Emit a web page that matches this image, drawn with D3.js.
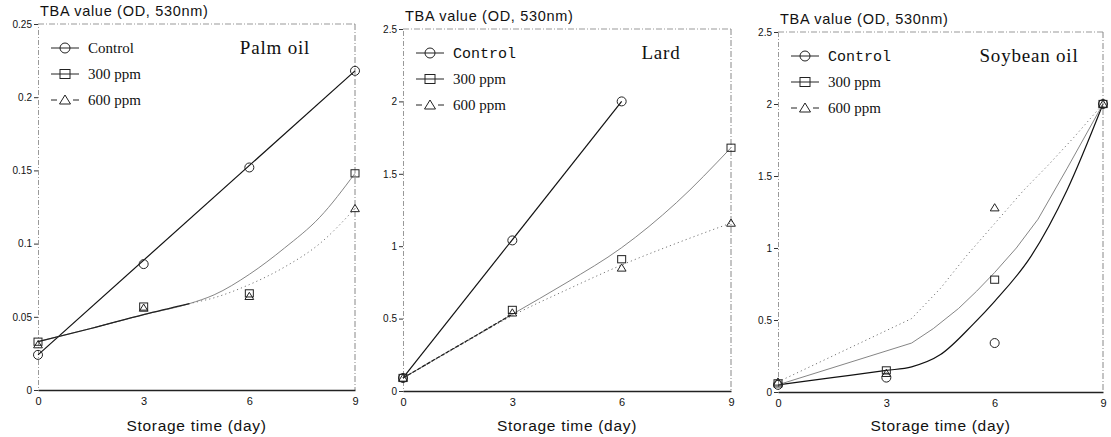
<!DOCTYPE html>
<html><head><meta charset="utf-8">
<script src="https://cdn.jsdelivr.net/npm/d3@7"></script>
<style>body{margin:0;background:#fff}svg{display:block}</style>
</head><body>
<script>
// ---------- DATA ----------
const days = [0, 3, 6, 9];
const seriesNames = ["Control", "300 ppm", "600 ppm"];
const panelTitles = ["Palm oil", "Lard", "Soybean oil"];
const yLabel = "TBA value (OD, 530nm)";
const xLabel = "Storage time (day)";
const xTicks = [0, 3, 6, 9];
const palmYTicks = [0, 0.05, 0.1, 0.15, 0.2, 0.25];
const palmYTickLabels = ["0", "0.05", "0.1", "0.15", "0.2", "0.25"];
const oilYTicks = [0, 0.5, 1, 1.5, 2, 2.5];
const oilYTickLabels = ["0", "0.5", "1", "1.5", "2", "2.5"];

// measured points
const palmControl = [0.024, 0.086, 0.152, 0.218];
const palm300 = [0.033, 0.057, 0.066, 0.148];
const palm600 = [0.031, 0.056, 0.064, 0.124];
const lardControl = [0.09, 1.04, 2.0, null];
const lard300 = [0.09, 0.56, 0.91, 1.68];
const lard600 = [0.09, 0.54, 0.85, 1.16];
const soyControl = [0.05, 0.10, 0.34, 2.0];
const soy300 = [0.06, 0.15, 0.78, 2.0];
const soy600 = [0.07, 0.13, 1.28, 2.0];

// fitted curves
const palmControlFitX = [0, 9];
const palmControlFitY = [0.024, 0.218];
const palm300FitX = [0, 1.5, 3, 4.3, 5, 6, 7, 8, 9];
const palm300FitY = [0.033, 0.042, 0.0515, 0.059, 0.065, 0.079, 0.097, 0.118, 0.148];
const palm600FitX = [0, 1.5, 3, 4.3, 5, 6, 7, 8, 9];
const palm600FitY = [0.033, 0.042, 0.0515, 0.059, 0.063, 0.072, 0.084, 0.100, 0.124];

const lardControlFitX = [0, 6];
const lardControlFitY = [0.09, 2.0];
const lard300FitX = [0, 1.5, 3, 4.5, 6, 7.5, 9];
const lard300FitY = [0.09, 0.31, 0.53, 0.75, 0.99, 1.30, 1.68];
const lard600FitX = [0, 1.5, 3, 4.5, 6, 7.5, 9];
const lard600FitY = [0.09, 0.305, 0.52, 0.70, 0.87, 1.02, 1.16];

const soyControlFitX = [0, 1.5, 3, 3.7, 4.5, 5.4, 6, 7, 8, 9];
const soyControlFitY = [0.05, 0.10, 0.15, 0.175, 0.26, 0.47, 0.63, 0.94, 1.40, 2.0];
const soy300FitX = [0, 3.7, 4.3, 5, 5.5, 6, 6.6, 7.2, 8, 9];
const soy300FitY = [0.05, 0.34, 0.44, 0.58, 0.70, 0.83, 1.0, 1.2, 1.55, 2.0];
const soy600FitX = [0, 3.7, 4.5, 5.2, 6, 6.8, 7.5, 8.2, 9];
const soy600FitY = [0.07, 0.51, 0.72, 0.94, 1.17, 1.40, 1.58, 1.77, 2.0];

// ---------- LAYOUT ----------
const W = 1111, H = 437;
const svg = d3.select("body").append("svg").attr("width", W).attr("height", H);

const panels = [
  { title: panelTitles[0], x0: 38, x1: 355, yTop: 24, yBot: 390, yMax: 0.25,
    ticks: palmYTicks, tickLabels: palmYTickLabels, titleX: 275,
    pts: [palmControl, palm300, palm600],
    fits: [[palmControlFitX, palmControlFitY], [palm300FitX, palm300FitY], [palm600FitX, palm600FitY]],
    shared: 4.3, smooth: [true, true, true] },
  { title: panelTitles[1], x0: 403, x1: 731, yTop: 29, yBot: 391, yMax: 2.5,
    ticks: oilYTicks, tickLabels: oilYTickLabels, titleX: 661,
    pts: [lardControl, lard300, lard600],
    fits: [[lardControlFitX, lardControlFitY], [lard300FitX, lard300FitY], [lard600FitX, lard600FitY]],
    shared: 3, smooth: [true, true, true] },
  { title: panelTitles[2], x0: 778, x1: 1103, yTop: 32, yBot: 392, yMax: 2.5,
    ticks: oilYTicks, tickLabels: oilYTickLabels, titleX: 1029,
    pts: [soyControl, soy300, soy600],
    fits: [[soyControlFitX, soyControlFitY], [soy300FitX, soy300FitY], [soy600FitX, soy600FitY]],
    shared: 0, smooth: [true, false, false] }
];

const lineStyles = [
  { stroke: "#111", width: 1.2, dash: null },
  { stroke: "#777", width: 0.9, dash: null },
  { stroke: "#777", width: 1, dash: "1.2,3" }
];

function marker(g, type, cx, cy, s) {
  if (type === 0) {
    g.append("circle").attr("cx", cx).attr("cy", cy).attr("r", s)
      .attr("fill", "none").attr("stroke", "#222").attr("stroke-width", 1);
  } else if (type === 1) {
    g.append("rect").attr("x", cx - s).attr("y", cy - s * 0.9).attr("width", 2 * s).attr("height", 1.8 * s)
      .attr("fill", "none").attr("stroke", "#222").attr("stroke-width", 1);
  } else {
    g.append("path").attr("d", `M${cx},${cy - s}L${cx + s * 1.1},${cy + s * 0.8}L${cx - s * 1.1},${cy + s * 0.8}Z`)
      .attr("fill", "none").attr("stroke", "#222").attr("stroke-width", 1);
  }
}

panels.forEach((p, pi) => {
  const x = d3.scaleLinear().domain([0, 9]).range([p.x0, p.x1]);
  const y = d3.scaleLinear().domain([0, p.yMax]).range([p.yBot, p.yTop]);
  const g = svg.append("g");

  // frame (dashed gray top/right, solid bottom)
  g.append("line").attr("x1", p.x0).attr("x2", p.x1).attr("y1", p.yTop).attr("y2", p.yTop)
    .attr("stroke", "#999").attr("stroke-width", 1).attr("stroke-dasharray", "6,2,1,2");
  g.append("line").attr("x1", p.x1).attr("x2", p.x1).attr("y1", p.yTop).attr("y2", p.yBot)
    .attr("stroke", "#888").attr("stroke-width", 1).attr("stroke-dasharray", "6,2,1,2");

  // y axis
  const yAxis = d3.axisLeft(y).tickValues(p.ticks).tickSize(4)
    .tickFormat((d, i) => p.tickLabels[i]);
  const ya = g.append("g").attr("transform", `translate(${p.x0},0)`).call(yAxis);
  ya.select(".domain").attr("stroke", "#999").attr("stroke-dasharray", "5,2,1,2");
  ya.selectAll(".tick line").attr("stroke", "#333");
  ya.selectAll("text").attr("font-family", "Liberation Sans, Arial, sans-serif")
    .attr("font-size", 10).attr("fill", "#111").attr("x", -6);

  // x axis
  const xAxis = d3.axisBottom(x).tickValues(xTicks).tickSize(0).tickPadding(7);
  const xa = g.append("g").attr("transform", `translate(0,${p.yBot})`).call(xAxis);
  xa.select(".domain").attr("stroke", "#222").attr("stroke-width", 1.4);
  xa.selectAll("text").attr("font-family", "Liberation Sans, Arial, sans-serif")
    .attr("font-size", 11).attr("fill", "#111");

  // labels
  g.append("text").attr("x", p.x0 + 2).attr("y", p.yTop - 8)
    .attr("font-family", "Liberation Sans, Arial, sans-serif").attr("font-size", 14.5)
    .attr("letter-spacing", 0.7).attr("fill", "#111").text(yLabel);
  g.append("text").attr("x", (p.x0 + p.x1) / 2).attr("y", 431).attr("text-anchor", "middle")
    .attr("font-family", "Liberation Sans, Arial, sans-serif").attr("font-size", 15.5)
    .attr("letter-spacing", 0.7).attr("fill", "#111").text(xLabel);
  g.append("text").attr("x", p.titleX).attr("y", p.yTop + 30).attr("text-anchor", "middle")
    .attr("font-family", "Liberation Serif, Times New Roman, serif").attr("font-size", 19)
    .attr("letter-spacing", 0.8).attr("fill", "#111").text(p.title);

  // fitted lines
  const smoothLine = d3.line().x(d => x(d[0])).y(d => y(d[1])).curve(d3.curveMonotoneX);
  const straightLine = d3.line().x(d => x(d[0])).y(d => y(d[1])).curve(d3.curveLinear);
  p.fits.forEach((f, si) => {
    const pts = f[0].map((v, i) => [v, f[1][i]]);
    const st = lineStyles[si];
    const gen = p.smooth[si] ? smoothLine : straightLine;
    g.append("path").attr("d", gen(pts)).attr("fill", "none")
      .attr("stroke", st.stroke).attr("stroke-width", st.width)
      .attr("stroke-dasharray", st.dash).attr("stroke-linejoin", "round");
  });
  // shared early segment drawn darker
  if (p.shared > 0) {
    const f = p.fits[1];
    const pts = f[0].map((v, i) => [v, f[1][i]]).filter(d => d[0] <= p.shared);
    g.append("path").attr("d", smoothLine(pts)).attr("fill", "none")
      .attr("stroke", "#222").attr("stroke-width", 1.2)
      .attr("stroke-dasharray", pi === 1 ? "4,1.5" : null);
  }

  // markers
  p.pts.forEach((vals, si) => {
    vals.forEach((v, i) => {
      if (v === null) return;
      marker(g, si, x(days[i]), y(v), si === 0 ? 4.5 : 4);
    });
  });

  // legend
  const lx = p.x0 + 13, ly0 = p.yTop + 24;
  seriesNames.forEach((name, si) => {
    const ly = ly0 + si * 26;
    if (si === 2) {
      g.append("line").attr("x1", lx).attr("x2", lx + 6).attr("y1", ly).attr("y2", ly).attr("stroke", "#222");
      g.append("line").attr("x1", lx + 22).attr("x2", lx + 28).attr("y1", ly).attr("y2", ly).attr("stroke", "#222");
    } else {
      g.append("line").attr("x1", lx).attr("x2", lx + 28).attr("y1", ly).attr("y2", ly).attr("stroke", "#222");
    }
    marker(g, si, lx + 14, ly, 5);
    g.append("text").attr("x", lx + 37).attr("y", ly + 5)
      .attr("font-family", si === 0 && pi > 0 ? "Liberation Mono, Courier New, monospace" : "Liberation Serif, Times New Roman, serif")
      .attr("font-size", 15).attr("fill", "#111").text(name);
  });
});
</script>
</body></html>
